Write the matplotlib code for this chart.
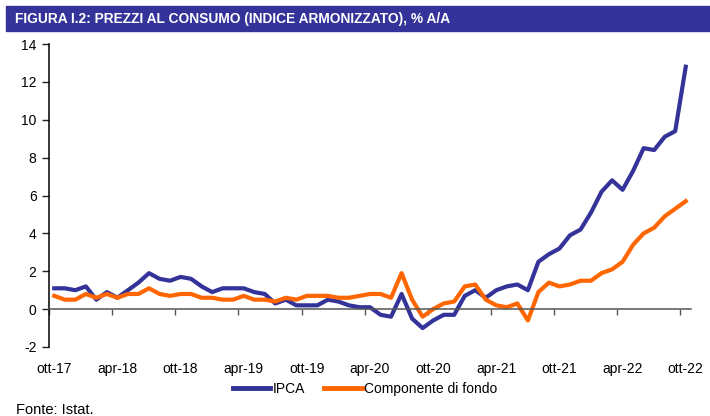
import matplotlib
matplotlib.use("Agg")
import matplotlib.pyplot as plt
from matplotlib.patches import Rectangle
import numpy as np

# monthly data, ott-17 .. ott-22
ipca = [1.1, 1.1, 1.0,
        1.2, 0.5, 0.9, 0.6, 1.0, 1.4, 1.9, 1.6, 1.5, 1.7, 1.6, 1.2,
        0.9, 1.1, 1.1, 1.1, 0.9, 0.8, 0.3, 0.5, 0.2, 0.2, 0.2, 0.5,
        0.4, 0.2, 0.1, 0.1, -0.3, -0.4, 0.8, -0.5, -1.0, -0.6, -0.3, -0.3,
        0.7, 1.0, 0.6, 1.0, 1.2, 1.3, 1.0, 2.5, 2.9, 3.2, 3.9, 4.2,
        5.1, 6.2, 6.8, 6.3, 7.3, 8.5, 8.4, 9.1, 9.4, 12.8]
fondo = [0.7, 0.5, 0.5,
         0.8, 0.6, 0.8, 0.6, 0.8, 0.8, 1.1, 0.8, 0.7, 0.8, 0.8, 0.6,
         0.6, 0.5, 0.5, 0.7, 0.5, 0.5, 0.4, 0.6, 0.5, 0.7, 0.7, 0.7,
         0.6, 0.6, 0.7, 0.8, 0.8, 0.6, 1.9, 0.5, -0.4, 0.0, 0.3, 0.4,
         1.2, 1.3, 0.5, 0.2, 0.1, 0.3, -0.6, 0.9, 1.4, 1.2, 1.3, 1.5,
         1.5, 1.9, 2.1, 2.5, 3.4, 4.0, 4.3, 4.9, 5.3, 5.7]
tick_labels = ["ott-17", "apr-18", "ott-18", "apr-19", "ott-19", "apr-20",
               "ott-20", "apr-21", "ott-21", "apr-22", "ott-22"]
yticks = [-2, 0, 2, 4, 6, 8, 10, 12, 14]

title = "FIGURA I.2: PREZZI AL CONSUMO (INDICE ARMONIZZATO), % A/A"
blue = "#333399"
orange = "#ff6600"

plt.rcParams['font.family'] = ['Liberation Sans', 'DejaVu Sans']
plt.rcParams['axes.unicode_minus'] = False

fig = plt.figure(figsize=(7.1, 4.16), dpi=100)
ax = fig.add_axes([49 / 710, 1 - 347 / 416, 642 / 710, 303 / 416])

x = np.arange(len(ipca))
ax.plot(x, ipca, color=blue, lw=3, label="IPCA", solid_joinstyle="round")
ax.plot(x, fondo, color=orange, lw=3, label="Componente di fondo",
        solid_joinstyle="round")

ax.set_xlim(-0.5, len(ipca) - 0.5)
ax.set_ylim(-2, 14)
ax.set_yticks(yticks)
ax.tick_params(axis='y', length=5, width=1, labelsize=10, pad=4, color="#222222")

for s in ["top", "right"]:
    ax.spines[s].set_visible(False)
ax.spines["left"].set_linewidth(1.1)
ax.spines["bottom"].set_position(("data", 0))
ax.spines["bottom"].set_color("#555555")
ax.spines["bottom"].set_linewidth(1.1)

# tick marks on the zero line at category boundaries
ax.set_xticks(np.arange(-0.5, len(ipca), 6))
ax.tick_params(axis='x', length=4, width=1, color="#555555", labelbottom=False)

# category labels at the bottom of the plot
sec = ax.secondary_xaxis("bottom")
sec.set_xticks(np.arange(0, len(ipca), 6))
sec.set_xticklabels(tick_labels)
sec.tick_params(length=0, labelsize=10, pad=11)
sec.spines["bottom"].set_visible(False)

# title bar
fig.patches.append(Rectangle((6 / 710, 1 - 31 / 416), 704 / 710, 25 / 416,
                             transform=fig.transFigure, color="#333399", zorder=0))
fig.text(15 / 710, 1 - 18.5 / 416, title, color="white", fontsize=9.9,
         fontweight="bold", va="center", ha="left")

leg = fig.legend(loc="center", bbox_to_anchor=(365 / 710, 1 - 389 / 416), ncol=2,
                 frameon=False, fontsize=10, handlelength=2.7, handletextpad=0.15,
                 columnspacing=1.4)
for line in leg.get_lines():
    line.set_linewidth(3.5)

fig.text(16 / 710, 1 - 403 / 416, "Fonte: Istat.", fontsize=10.5, va="top", ha="left")

fig.savefig("out.png", dpi=100)
